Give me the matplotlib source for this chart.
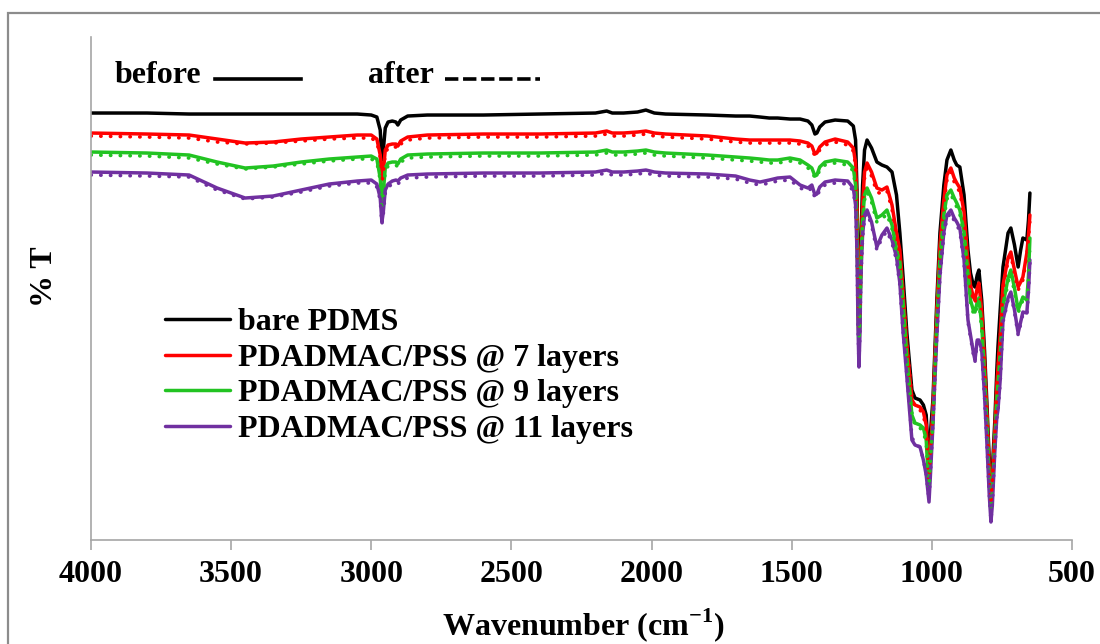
import matplotlib
matplotlib.use("Agg")
import matplotlib.pyplot as plt
import matplotlib.patches as mpatches
from matplotlib.lines import Line2D

plt.rcParams['font.family'] = ['Liberation Serif', 'DejaVu Serif']
plt.rcParams['font.weight'] = 'bold'
plt.rcParams['mathtext.fontset'] = 'custom'
plt.rcParams['mathtext.rm'] = 'Liberation Serif:bold'
plt.rcParams['mathtext.bf'] = 'Liberation Serif:bold'

# ---------------------------------------------------------------
# data (arbitrary %T units, no y scale shown)
# ---------------------------------------------------------------
wavenumber = [
    4000, 3800, 3650, 3550, 3450, 3350, 3250, 3150, 3050, 3000,
    2980, 2968, 2962, 2957, 2950, 2940, 2925, 2912, 2905, 2895,
    2870, 2800, 2600, 2400, 2200, 2160, 2140, 2100, 2050, 2020,
    1990, 1950, 1800, 1700, 1650, 1613, 1580, 1550, 1506, 1470,
    1442, 1428, 1417, 1410, 1400, 1381, 1345, 1300, 1280, 1272,
    1267, 1263, 1260, 1257, 1253, 1247, 1240, 1231, 1215, 1196,
    1178, 1160, 1142, 1126, 1114, 1103, 1089, 1071, 1060, 1042,
    1030, 1020, 1010, 1004, 996, 982, 971, 957, 946, 932,
    920, 911, 900, 885, 871, 862, 852, 846, 838, 832,
    822, 812, 804, 795, 789, 784, 775, 768, 764, 756,
    746, 728, 718, 705, 692, 683, 675, 661, 655, 650,
]

bare_pdms = [
    427, 427, 426, 426, 426, 426, 426, 426, 426, 425,
    423, 410, 380, 390, 412, 418, 419, 418, 415, 420,
    424, 425, 425, 426, 427, 429, 427, 427, 428, 430,
    427, 426, 425, 424, 424, 423, 422, 422, 421, 421,
    419, 415, 406, 407, 413, 418, 420, 419, 414, 400,
    350, 260, 195, 230, 300, 355, 390, 400, 392, 378,
    375, 373, 368, 345, 307, 265, 207, 150, 142, 140,
    135, 125, 70, 110, 140, 240, 307, 355, 380, 390,
    380, 375, 373, 345, 290, 267, 255, 253, 265, 270,
    240, 190, 140, 80, 40, 70, 120, 170, 193, 230,
    273, 307, 312, 295, 273, 290, 302, 300, 320, 347,
]

layers7_before = [
    407, 406, 405, 401, 397, 398, 401, 403, 405, 405,
    401, 385, 360, 368, 390, 395, 396, 396, 394, 399,
    403, 405, 406, 406, 407, 409, 407, 407, 408, 409,
    407, 406, 404, 401, 400, 400, 400, 400, 400, 399,
    397, 394, 386, 387, 393, 398, 401, 398, 392, 377,
    330, 245, 190, 220, 285, 335, 368, 377, 368, 352,
    350, 353, 335, 307, 290, 250, 195, 140, 135, 133,
    128, 115, 58, 95, 130, 230, 295, 340, 365, 372,
    362, 357, 352, 328, 278, 255, 243, 240, 252, 257,
    230, 180, 130, 70, 35, 60, 110, 155, 173, 205,
    255, 282, 288, 270, 253, 258, 263, 287, 305, 325,
]

layers7_after = [
    404, 403, 402, 398, 396, 397, 399, 401, 402, 402,
    398, 383, 358, 366, 387, 392, 393, 393, 391, 396,
    400, 402, 403, 403, 404, 406, 404, 404, 405, 406,
    404, 403, 401, 398, 397, 397, 397, 397, 397, 396,
    394, 391, 384, 385, 390, 395, 398, 395, 389, 374,
    325, 250, 210, 232, 280, 330, 362, 372, 364, 348,
    346, 349, 331, 303, 286, 248, 195, 142, 133, 130,
    124, 112, 60, 92, 126, 225, 290, 336, 360, 368,
    358, 353, 348, 324, 275, 252, 240, 237, 249, 254,
    226, 176, 128, 70, 38, 60, 108, 152, 170, 201,
    252, 279, 285, 267, 250, 255, 260, 284, 302, 320,
]

layers9_before = [
    388, 387, 385, 378, 372, 374, 378, 381, 383, 384,
    381, 362, 337, 348, 372, 377, 378, 378, 376, 381,
    385, 386, 387, 387, 388, 390, 388, 388, 389, 390,
    388, 387, 385, 383, 382, 381, 380, 380, 382, 380,
    375, 372, 364, 365, 373, 378, 380, 378, 372, 355,
    315, 235, 195, 215, 275, 320, 345, 352, 342, 322,
    325, 330, 315, 290, 278, 240, 182, 125, 117, 115,
    112, 100, 50, 85, 120, 220, 282, 325, 345, 350,
    342, 337, 330, 308, 265, 240, 230, 228, 238, 242,
    215, 165, 120, 60, 28, 50, 100, 140, 155, 185,
    235, 262, 270, 252, 230, 237, 243, 240, 265, 302,
]

layers9_after = [
    385, 384, 382, 376, 371, 373, 376, 379, 381, 381,
    378, 360, 335, 346, 369, 374, 375, 375, 373, 378,
    382, 383, 384, 384, 385, 387, 385, 385, 386, 387,
    385, 384, 382, 380, 379, 378, 377, 377, 379, 377,
    372, 369, 362, 363, 370, 375, 377, 375, 369, 352,
    310, 240, 200, 220, 272, 316, 340, 348, 338, 318,
    321, 326, 311, 287, 275, 238, 182, 127, 114, 112,
    108, 97, 52, 84, 116, 216, 278, 321, 341, 346,
    338, 333, 326, 304, 262, 237, 227, 225, 235, 239,
    211, 161, 117, 60, 30, 50, 98, 137, 152, 181,
    231, 258, 266, 248, 227, 234, 240, 237, 262, 298,
]

layers11_before = [
    368, 367, 365, 352, 342, 344, 350, 356, 359, 360,
    356, 342, 318, 328, 350, 356, 359, 360, 359, 362,
    365, 366, 367, 367, 368, 370, 368, 368, 369, 370,
    368, 367, 366, 364, 360, 358, 360, 362, 363, 355,
    352, 355, 345, 346, 353, 358, 360, 359, 352, 335,
    290, 210, 173, 200, 265, 305, 325, 330, 318, 293,
    305, 312, 300, 283, 257, 210, 163, 100, 95, 93,
    80, 65, 38, 70, 115, 205, 265, 308, 325, 330,
    322, 318, 312, 280, 220, 205, 188, 180, 200, 200,
    190, 145, 100, 45, 18, 35, 90, 123, 130, 160,
    220, 242, 248, 230, 207, 218, 228, 227, 250, 280,
]

layers11_after = [
    365, 364, 363, 350, 341, 343, 348, 354, 357, 357,
    353, 340, 316, 326, 347, 353, 356, 357, 356, 359,
    362, 363, 364, 364, 365, 367, 365, 365, 366, 367,
    365, 364, 363, 361, 357, 355, 357, 359, 360, 352,
    349, 352, 342, 343, 350, 355, 357, 356, 349, 332,
    287, 210, 178, 202, 262, 302, 322, 327, 315, 290,
    302, 309, 297, 280, 255, 210, 165, 103, 96, 93,
    80, 66, 40, 72, 116, 204, 263, 305, 322, 327,
    319, 315, 309, 277, 218, 203, 186, 178, 198, 198,
    188, 143, 100, 46, 20, 36, 90, 122, 129, 158,
    218, 240, 246, 228, 205, 216, 226, 225, 248, 277,
]

labels = ['bare PDMS', 'PDADMAC/PSS @ 7 layers',
          'PDADMAC/PSS @ 9 layers', 'PDADMAC/PSS @ 11 layers']
cores = ['#000000', '#ff0000', '#22c322', '#7030a0']
xticks = [4000, 3500, 3000, 2500, 2000, 1500, 1000, 500]

# ---------------------------------------------------------------
fig = plt.figure(figsize=(11, 6.44), dpi=100)
ax = fig.add_axes([0.0827, 0.1615, 0.8918, 0.781])

# moldura cinza da figura (só aparecem as bordas esquerda e superior)
moldura = mpatches.Rectangle((0.0073, -0.2), 1.2, 0.9798 + 0.2, transform=fig.transFigure,
                             fill=False, edgecolor='#8c8c8c', linewidth=1.6, clip_on=False)
fig.patches.append(moldura)

antes = [bare_pdms, layers7_before, layers9_before, layers11_before]
depois = [None, layers7_after, layers9_after, layers11_after]

for serie, cor, lab in zip(antes, cores, labels):
    ax.plot(wavenumber, serie, color=cor, linewidth=2.5, label=lab, solid_capstyle='round')

for serie, cor in zip(depois, cores):
    if serie is None:
        continue
    ax.plot(wavenumber, serie, color=cor, linewidth=2.6, linestyle=(0, (0.1, 2.6)),
            dash_capstyle='round')

ax.set_xlim(4000, 500)
ax.set_ylim(0, 503)
ax.set_xticks(xticks)
ax.set_xticklabels([str(t) for t in xticks])
ax.set_yticks([])

for lado in ['top', 'right']:
    ax.spines[lado].set_visible(False)
ax.spines['left'].set_color('#a6a6a6')
ax.spines['bottom'].set_color('#a6a6a6')
ax.spines['left'].set_linewidth(1.2)
ax.spines['bottom'].set_linewidth(1.2)

ax.tick_params(axis='x', direction='out', length=7.5, width=1.2, color='#a6a6a6',
               labelsize=23, pad=7)

ax.set_xlabel('Wavenumber (cm$^{-1}$)', fontsize=23, fontweight='bold')
ax.xaxis.set_label_coords(0.5015, -0.132)
ax.set_ylabel('% T', fontsize=23, fontweight='bold')
ax.yaxis.set_label_coords(-0.033, 0.523)

# indicação before / after no topo
ax.text(0.0245, 0.9085, 'before', transform=ax.transAxes, fontsize=23,
        fontweight='bold', va='baseline', ha='left')
ax.add_line(Line2D([0.1264, 0.2141], [0.9165, 0.9165], transform=ax.transAxes,
                   color='black', linewidth=2.6))
ax.text(0.2824, 0.9085, 'after', transform=ax.transAxes, fontsize=23,
        fontweight='bold', va='baseline', ha='left')
ax.add_line(Line2D([0.3609, 0.4577], [0.9165, 0.9165], transform=ax.transAxes,
                   color='black', linewidth=2.6, linestyle=(0, (3.7, 1.3)),
                   dash_capstyle='butt'))

ax.legend(loc='upper left', bbox_to_anchor=(0.0754, 0.461), frameon=False,
          handlelength=2.03, handletextpad=0.25, labelspacing=0.19,
          borderpad=0, borderaxespad=0, prop={'weight': 'bold', 'size': 23})

fig.savefig('out.png', dpi=100)
